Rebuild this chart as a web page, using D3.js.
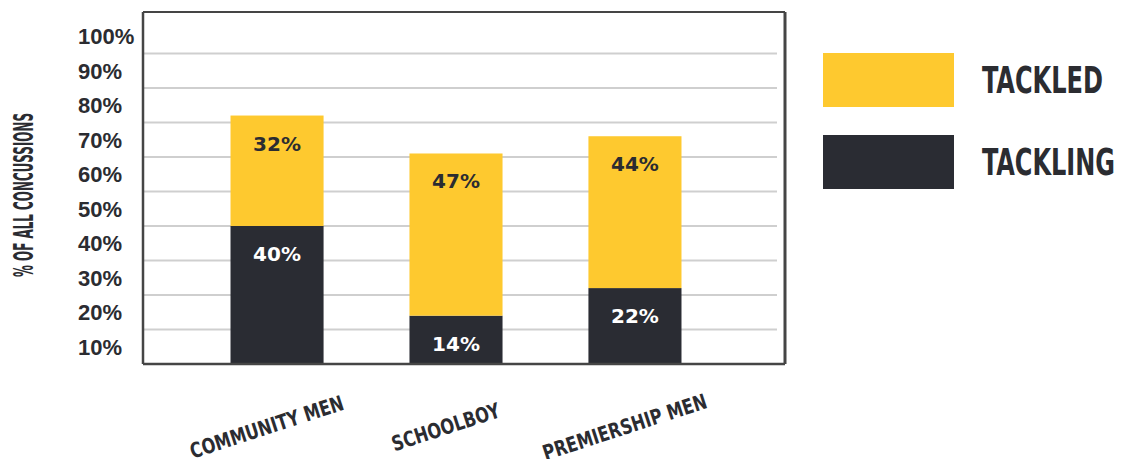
<!DOCTYPE html>
<html>
<head>
<meta charset="utf-8">
<script src="https://cdn.jsdelivr.net/npm/d3@7"></script>
<style>
  html, body { margin: 0; padding: 0; background: #ffffff; }
  svg { display: block; }
</style>
</head>
<body>
<svg id="chart" width="1127" height="459"></svg>
<script>
// Concussion share by cause of injury, per player group
const groups = ["COMMUNITY MEN", "SCHOOLBOY", "PREMIERSHIP MEN"];
const tackling = [40, 14, 22];   // dark, stacked first
const tackled = [32, 47, 44];    // yellow, stacked on top
const seriesNames = ["TACKLED", "TACKLING"];
const tickValues = [10, 20, 30, 40, 50, 60, 70, 80, 90, 100];
const tickLabels = ["10%", "20%", "30%", "40%", "50%", "60%", "70%", "80%", "90%", "100%"];
const yTitle = "% OF ALL CONCUSSIONS";

const YELLOW = "#fec92f";
const DARK = "#2a2c33";
const INK = "#2b2c31";
const GRID = "#cfcfcf";
const FRAME = "#454545";
const CONDENSED = "'Liberation Sans Narrow', 'DejaVu Sans Condensed', 'Liberation Sans', sans-serif";

const svg = d3.select("#chart");

const plot = { left: 143, right: 785, top: 12, bottom: 364 };

const y = d3.scaleLinear().domain([0, 102]).range([plot.bottom, plot.top]);
const x = d3.scaleBand()
  .domain(groups)
  .range([plot.left, 769])
  .paddingInner(0.48)
  .paddingOuter(0.489);

// Grid lines
svg.append("g")
  .selectAll("line")
  .data(tickValues.filter(v => v < 100))
  .join("line")
  .attr("x1", plot.left)
  .attr("x2", plot.right - 8)
  .attr("y1", d => y(d))
  .attr("y2", d => y(d))
  .attr("stroke", GRID)
  .attr("stroke-width", 2);

// Tick labels sit in the middle of each 10% band
svg.append("g")
  .selectAll("text")
  .data(tickValues)
  .join("text")
  .attr("x", 78)
  .attr("y", d => y(d - 5))
  .attr("dy", "0.36em")
  .attr("font-family", "'Liberation Sans', Arial, sans-serif")
  .attr("font-weight", "bold")
  .attr("font-size", 22)
  .attr("fill", INK)
  .text((d, i) => tickLabels[i]);

// Stacked bars
const rows = groups.map((g, i) => ({ group: g, tackling: tackling[i], tackled: tackled[i] }));
const stack = d3.stack().keys(["tackling", "tackled"])(rows);
const colors = { tackling: DARK, tackled: YELLOW };
const labelColors = { tackling: "#ffffff", tackled: INK };

const layers = svg.append("g")
  .selectAll("g")
  .data(stack)
  .join("g")
  .attr("fill", d => colors[d.key]);

layers.selectAll("rect")
  .data(d => d)
  .join("rect")
  .attr("x", d => x(d.data.group))
  .attr("width", x.bandwidth())
  .attr("y", d => y(d[1]))
  .attr("height", d => y(d[0]) - y(d[1]));

// Value labels near the top of each segment
svg.append("g")
  .selectAll("g")
  .data(stack)
  .join("g")
  .attr("fill", d => labelColors[d.key])
  .selectAll("text")
  .data(d => d)
  .join("text")
  .attr("x", d => x(d.data.group) + x.bandwidth() / 2)
  .attr("y", d => y(d[1]) + 35)
  .attr("text-anchor", "middle")
  .attr("font-family", "'DejaVu Sans', sans-serif")
  .attr("font-weight", "bold")
  .attr("font-size", 20)
  .attr("stroke", d => "none")
  .text(d => (d[1] - d[0]) + "%");

// Frame
const frame = svg.append("g").attr("fill", "none").attr("stroke", FRAME);
frame.append("line").attr("x1", plot.left).attr("x2", plot.right).attr("y1", plot.top).attr("y2", plot.top).attr("stroke-width", 2);
frame.append("line").attr("x1", plot.left).attr("x2", plot.left).attr("y1", plot.top).attr("y2", plot.bottom).attr("stroke-width", 2.5);
frame.append("line").attr("x1", plot.right).attr("x2", plot.right).attr("y1", plot.top).attr("y2", plot.bottom).attr("stroke-width", 3);
frame.append("line").attr("x1", plot.left).attr("x2", plot.right).attr("y1", plot.bottom).attr("y2", plot.bottom).attr("stroke-width", 2.5);

// Y axis title
svg.append("text")
  .attr("transform", "translate(33," + ((plot.top + plot.bottom) / 2 + 7) + ") rotate(-90)")
  .attr("text-anchor", "middle")
  .attr("font-family", CONDENSED)
  .attr("font-weight", "bold")
  .attr("font-size", 27)
  .attr("textLength", 164)
  .attr("lengthAdjust", "spacingAndGlyphs")
  .attr("fill", INK)
  .text(yTitle);

// Category labels, slanted and condensed
svg.append("g")
  .selectAll("text")
  .data(groups)
  .join("text")
  .attr("transform", d => "translate(" + (x(d) + x.bandwidth() / 2 - 8) + ",434) rotate(-18) scale(0.86,1)")
  .attr("text-anchor", "middle")
  .attr("font-family", CONDENSED)
  .attr("font-weight", "bold")
  .attr("font-size", 21)
  .attr("fill", INK)
  .text(d => d);

// Legend
const legend = svg.append("g")
  .selectAll("g")
  .data(seriesNames)
  .join("g")
  .attr("transform", (d, i) => "translate(823," + (53 + i * 82) + ")");

legend.append("rect")
  .attr("width", 131)
  .attr("height", 54)
  .attr("fill", d => d === "TACKLED" ? YELLOW : DARK);

legend.append("text")
  .attr("x", 159)
  .attr("y", 40)
  .attr("font-family", CONDENSED)
  .attr("font-weight", "bold")
  .attr("font-size", 37)
  .attr("textLength", d => d === "TACKLED" ? 121 : 133)
  .attr("lengthAdjust", "spacingAndGlyphs")
  .attr("fill", INK)
  .text(d => d);
</script>
</body>
</html>
